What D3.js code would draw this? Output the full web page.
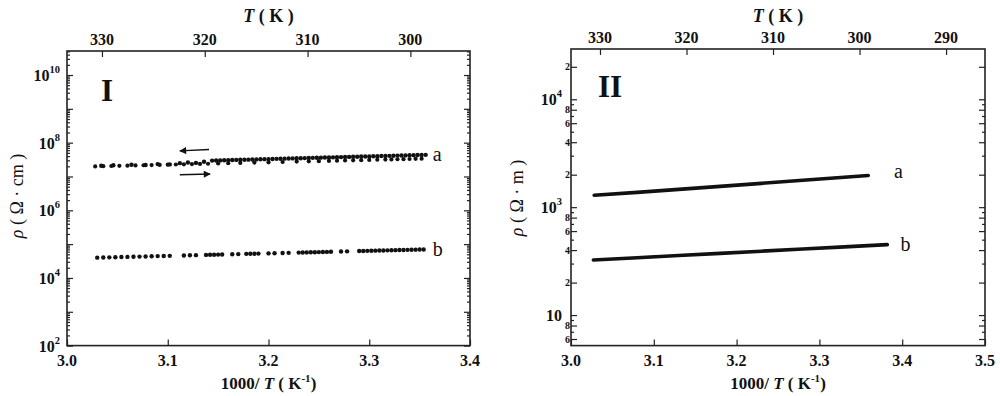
<!DOCTYPE html>
<html><head><meta charset="utf-8">
<script src="https://cdn.jsdelivr.net/npm/d3@7"></script>
<style>
body{margin:0;background:#fff;}
svg{display:block;font-family:"Liberation Serif","DejaVu Serif",serif;}
</style></head><body>
<svg id="c" width="1000" height="396"></svg>
<script>
// ---------- DATA ----------
// Panel I (rho in ohm·cm), x = 1000/T
const aUpX = [3.034,3.046,3.064,3.078,3.090,3.102,3.112,3.120,3.128,3.136,
  3.144,3.148,3.152,3.156,3.160,3.164,3.168,3.172,3.176,3.180,3.184,3.188,3.192,3.196,3.200,
  3.204,3.208,3.212,3.216,3.220,3.224,3.228,3.232,3.236,3.240,3.244,3.248,3.252,3.256,3.260,
  3.264,3.268,3.272,3.276,3.280,3.284,3.288,3.292,3.296,3.300,3.304,3.308,3.312,3.316,3.320,
  3.324,3.328,3.332,3.336,3.340,3.344,3.348,3.352,3.356];
const aUpRho = [2.08e7,2.14e7,2.22e7,2.18e7,2.32e7,2.28e7,2.48e7,2.58e7,2.52e7,2.72e7,
  2.95e7,2.97e7,2.99e7,3.02e7,3.04e7,3.06e7,3.09e7,3.11e7,3.13e7,3.15e7,3.18e7,3.20e7,3.22e7,3.25e7,3.27e7,
  3.30e7,3.32e7,3.35e7,3.37e7,3.40e7,3.42e7,3.45e7,3.47e7,3.50e7,3.52e7,3.55e7,3.57e7,3.60e7,3.63e7,3.65e7,
  3.68e7,3.71e7,3.74e7,3.76e7,3.79e7,3.82e7,3.85e7,3.88e7,3.91e7,3.93e7,3.96e7,3.99e7,4.02e7,4.05e7,4.08e7,
  4.11e7,4.14e7,4.17e7,4.20e7,4.24e7,4.27e7,4.30e7,4.33e7,4.36e7];
const aDownX = [3.028,3.036,3.044,3.052,3.060,3.068,3.076,3.084,3.092,3.100,3.108,3.116,3.124,3.132,3.140,
  3.150,3.160,3.172,3.186,3.200,3.214,3.228,3.240,3.250,3.260,3.268,3.276,3.284,3.292,3.300,
  3.308,3.316,3.322,3.328,3.334,3.340,3.346,3.352];
const aDownRho = [1.99e7,2.02e7,2.04e7,2.07e7,2.09e7,2.12e7,2.15e7,2.18e7,2.20e7,2.23e7,2.26e7,2.29e7,2.32e7,2.35e7,2.38e7,
  2.42e7,2.46e7,2.51e7,2.57e7,2.62e7,2.68e7,2.75e7,2.80e7,2.84e7,2.89e7,2.93e7,2.97e7,3.00e7,3.04e7,3.08e7,
  3.12e7,3.16e7,3.19e7,3.23e7,3.26e7,3.29e7,3.32e7,3.35e7];
const bX = [3.030,3.036,3.042,3.048,3.054,3.060,3.066,3.072,3.078,3.084,3.090,3.096,3.102,
  3.116,3.122,3.128,3.138,3.142,3.146,3.150,3.154,3.164,3.170,3.178,3.182,3.186,3.190,
  3.200,3.206,3.214,3.220,3.230,3.234,3.238,3.242,3.246,3.250,3.254,3.258,3.262,3.272,3.278,
  3.290,3.294,3.298,3.302,3.306,3.310,3.314,3.318,3.322,3.326,3.330,3.334,3.338,3.342,3.346,3.350,3.354];
const bRho = [3.98e4,4.02e4,4.06e4,4.11e4,4.15e4,4.19e4,4.24e4,4.28e4,4.33e4,4.37e4,4.42e4,4.46e4,4.51e4,
  4.62e4,4.67e4,4.72e4,4.80e4,4.83e4,4.86e4,4.90e4,4.93e4,5.02e4,5.07e4,5.14e4,5.18e4,5.21e4,5.25e4,
  5.34e4,5.40e4,5.47e4,5.53e4,5.62e4,5.66e4,5.70e4,5.74e4,5.78e4,5.82e4,5.86e4,5.90e4,5.94e4,6.05e4,6.11e4,
  6.24e4,6.28e4,6.32e4,6.37e4,6.41e4,6.46e4,6.50e4,6.55e4,6.59e4,6.64e4,6.68e4,6.73e4,6.78e4,6.82e4,6.87e4,6.92e4,6.97e4];

// Panel II (rho in ohm·m)
const IIaX = [3.028,3.08,3.13,3.18,3.23,3.28,3.33,3.359];
const IIaRho = [1290,1371,1462,1560,1663,1774,1892,1968];
const IIbX = [3.027,3.08,3.13,3.18,3.23,3.28,3.33,3.382];
const IIbRho = [324,340,357,373,391,409,429,450];

// Tick values / labels
const xTicksI = [3.0,3.1,3.2,3.3,3.4];
const xTicksII = [3.0,3.1,3.2,3.3,3.4,3.5];
const tTicksI = [330,320,310,300];
const tTicksII = [330,320,310,300,290];
const yMajorI = [1e2,1e4,1e6,1e8,1e10];
const yMajorIExp = ["2","4","6","8","10"];
const yMajorII = [1e2,1e3,1e4];
const yMajorIIExp = ["","3","4"];
const yMinorIILabeled = [60,80,200,400,600,800,2000,4000,6000,8000,20000];

// ---------- DRAW ----------
const svg = d3.select("#c");
const ink = "#111";

function frame(g, x0, x1, y0, y1){
  g.append("rect").attr("x",x0).attr("y",y0).attr("width",x1-x0).attr("height",y1-y0)
   .attr("fill","none").attr("stroke","#222").attr("stroke-width",1.6);
}

function logMinors(lo, hi){
  const out=[];
  for(let e=Math.floor(Math.log10(lo)); e<=Math.ceil(Math.log10(hi)); e++){
    for(let k=1;k<=9;k++){ const v=k*Math.pow(10,e); if(v>=lo && v<=hi) out.push(v); }
  }
  return out;
}

function panel(cfg){
  const g = svg.append("g");
  const x = d3.scaleLinear().domain(cfg.xDom).range([cfg.L,cfg.R]);
  const y = d3.scaleLog().domain(cfg.yDom).range([cfg.B,cfg.T]);
  const tx = d3.scaleLinear().domain(cfg.tDom).range([cfg.L,cfg.R]);

  const yTicksAll = logMinors(cfg.yDom[0], cfg.yDom[1]);
  const isMajor = v => cfg.majorTickFn(v);
  g.append("g").attr("transform",`translate(${cfg.L},0)`)
    .call(d3.axisLeft(y).tickValues(yTicksAll.filter(v=>!isMajor(v))).tickSize(-3).tickFormat(""))
    .call(a=>a.select(".domain").remove());
  g.append("g").attr("transform",`translate(${cfg.L},0)`)
    .call(d3.axisLeft(y).tickValues(yTicksAll.filter(isMajor)).tickSize(-6).tickFormat(""))
    .call(a=>a.select(".domain").remove());
  g.append("g").attr("transform",`translate(${cfg.R},0)`)
    .call(d3.axisRight(y).tickValues(yTicksAll.filter(v=>!isMajor(v))).tickSize(-3).tickFormat(""))
    .call(a=>a.select(".domain").remove());
  g.append("g").attr("transform",`translate(${cfg.R},0)`)
    .call(d3.axisRight(y).tickValues(yTicksAll.filter(isMajor)).tickSize(-6).tickFormat(""))
    .call(a=>a.select(".domain").remove());
  g.append("g").attr("transform",`translate(0,${cfg.B})`)
    .call(d3.axisBottom(x).tickValues(cfg.xTicks).tickSize(-6).tickFormat(""))
    .call(a=>a.select(".domain").remove());
  g.append("g").attr("transform",`translate(0,${cfg.T})`)
    .call(d3.axisTop(tx).tickValues(cfg.tTicks).tickSize(-6).tickFormat(""))
    .call(a=>a.select(".domain").remove());
  g.selectAll(".tick line").attr("stroke","#222").attr("stroke-width",1.2);
  frame(g, cfg.L, cfg.R, cfg.T, cfg.B);

  g.selectAll(".xl").data(cfg.xTicks).join("text")
    .attr("x",d=>x(d)).attr("y",cfg.B+20).attr("text-anchor","middle")
    .attr("font-size",16).attr("font-weight","bold").attr("fill",ink)
    .text(d=>d.toFixed(1));
  g.selectAll(".tl").data(cfg.tTicks).join("text")
    .attr("x",d=>tx(d)).attr("y",cfg.T-6).attr("text-anchor","middle")
    .attr("font-size",16).attr("font-weight","bold").attr("fill",ink)
    .text(d=>d);
  cfg.yMajor.forEach((v,i)=>{
    const t = g.append("text").attr("x",cfg.L-cfg.labGap).attr("y",y(v)+6)
      .attr("text-anchor","end").attr("font-size",16).attr("font-weight","bold").attr("fill",ink);
    t.append("tspan").text("10");
    if(cfg.yExp[i]) t.append("tspan").attr("dy",-8).attr("font-size",10.5).text(cfg.yExp[i]);
  });
  if(cfg.minorLabels){
    g.selectAll(".ml").data(cfg.minorLabels).join("text")
      .attr("x",cfg.L-1).attr("y",d=>y(d)+3.5).attr("text-anchor","end")
      .attr("font-size",10).attr("font-weight","bold").attr("fill",ink)
      .text(d=>String(d)[0]);
  }
  const cx = (cfg.L+cfg.R)/2;
  const tt = g.append("text").attr("x",cx).attr("y",22).attr("text-anchor","middle")
    .attr("font-size",18).attr("font-weight","bold").attr("fill",ink);
  tt.append("tspan").attr("font-style","italic").text("T");
  tt.append("tspan").text(" ( K )");
  const bt = g.append("text").attr("x",cx).attr("y",389).attr("text-anchor","middle")
    .attr("font-size",17).attr("font-weight","bold").attr("fill",ink);
  bt.append("tspan").text("1000/ ");
  bt.append("tspan").attr("font-style","italic").text("T");
  bt.append("tspan").text(" ( K");
  bt.append("tspan").attr("dy",-7).attr("font-size",11).text("-1");
  bt.append("tspan").attr("dy",7).text(")");
  const yt = g.append("text").attr("transform",`translate(${cfg.yTitleX},${cfg.yTitleY}) rotate(-90)`)
    .attr("text-anchor","middle").attr("font-size",18).attr("fill",ink);
  yt.append("tspan").attr("font-style","italic").text("ρ");
  yt.append("tspan").text(cfg.yUnit);
  g.append("text").attr("x",cfg.romanX).attr("y",cfg.romanY).attr("font-size",31)
    .attr("font-weight","bold").attr("fill",ink).text(cfg.roman);

  return {g,x,y};
}

// Panel I
const p1 = panel({
  L:67,R:470,T:51,B:345.6, xDom:[3.0,3.4], yDom:[1e2,Math.pow(10,10.71)], tDom:[333.4,294.2],
  xTicks:xTicksI, tTicks:tTicksI, yMajor:yMajorI, yExp:yMajorIExp, labGap:7,
  majorTickFn:v=>Math.abs(Math.log10(v)-Math.round(Math.log10(v)))<1e-9,
  yTitleX:23, yTitleY:196, yUnit:" ( Ω · cm )", roman:"I", romanX:101, romanY:101
});
function dots(p, xs, ys, r){
  p.g.append("g").selectAll("circle").data(xs).join("circle")
    .attr("cx",(d)=>p.x(d)).attr("cy",(d,i)=>p.y(ys[i])).attr("r",r).attr("fill",ink);
}
dots(p1, aDownX, aDownRho, 2.1);
dots(p1, aUpX, aUpRho, 2.2);
dots(p1, bX, bRho, 2.2);
p1.g.append("text").attr("x",p1.x(3.363)).attr("y",p1.y(4.3e7)+6).attr("font-size",20).attr("fill",ink).text("a");
p1.g.append("text").attr("x",p1.x(3.363)).attr("y",p1.y(6.9e4)+6).attr("font-size",20).attr("fill",ink).text("b");
const defs = svg.append("defs");
defs.append("marker").attr("id","ah").attr("viewBox","0 0 10 10").attr("refX",9).attr("refY",5)
  .attr("markerWidth",7).attr("markerHeight",5).attr("orient","auto")
  .append("path").attr("d","M0,0L10,5L0,10Z").attr("fill",ink);
p1.g.append("line").attr("x1",p1.x(3.141)).attr("y1",p1.y(6.3e7)).attr("x2",p1.x(3.112)).attr("y2",p1.y(5.7e7))
  .attr("stroke",ink).attr("stroke-width",1.4).attr("marker-end","url(#ah)");
p1.g.append("line").attr("x1",p1.x(3.112)).attr("y1",p1.y(1.13e7)).attr("x2",p1.x(3.142)).attr("y2",p1.y(1.18e7))
  .attr("stroke",ink).attr("stroke-width",1.4).attr("marker-end","url(#ah)");

// Panel II
const p2 = panel({
  L:571,R:985,T:49,B:345.6, xDom:[3.0,3.5], yDom:[Math.pow(10,1.717),Math.pow(10,4.466)], tDom:[333.35,285.5],
  xTicks:xTicksII, tTicks:tTicksII, yMajor:yMajorII, yExp:yMajorIIExp, labGap:9,
  majorTickFn:v=>{const e=Math.floor(Math.log10(v)+1e-9); const m=Math.round(v/Math.pow(10,e)); return m===1||m===2||m===4||m===6||m===8;},
  minorLabels:yMinorIILabeled,
  yTitleX:523, yTitleY:198, yUnit:" ( Ω ·  m )", roman:"II", romanX:598, romanY:97
});
const line = (p)=>d3.line().x(d=>p.x(d[0])).y(d=>p.y(d[1]));
p2.g.append("path").attr("d",line(p2)(IIaX.map((v,i)=>[v,IIaRho[i]])))
  .attr("fill","none").attr("stroke",ink).attr("stroke-width",3.6).attr("stroke-linecap","round");
p2.g.append("path").attr("d",line(p2)(IIbX.map((v,i)=>[v,IIbRho[i]])))
  .attr("fill","none").attr("stroke",ink).attr("stroke-width",3.6).attr("stroke-linecap","round");
p2.g.append("text").attr("x",p2.x(3.39)).attr("y",p2.y(1968)+3).attr("font-size",20).attr("fill",ink).text("a");
p2.g.append("text").attr("x",p2.x(3.398)).attr("y",p2.y(445)+6).attr("font-size",20).attr("fill",ink).text("b");
</script>
</body></html>
